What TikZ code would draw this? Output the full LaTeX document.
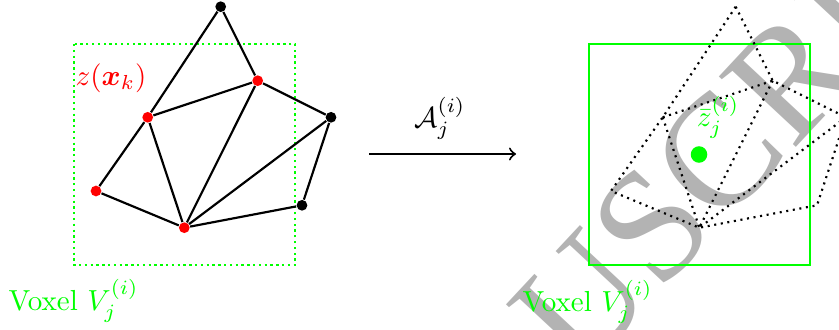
\documentclass[tikz,border=0pt]{standalone}
\usepackage{amsmath}
\usepackage{amssymb}
\usepackage{fontspec}
\newfontfamily\wmfont{Liberation Serif}
\usetikzlibrary{calc}
\definecolor{pgreen}{RGB}{0,255,0}
\definecolor{pred}{RGB}{255,0,0}
\definecolor{wmgray}{RGB}{179,179,179}
\begin{document}
\begin{tikzpicture}[x=0.345pt,y=-0.345pt,
  meshline/.style={line width=0.75pt,black},
  ghostline/.style={line width=0.75pt,black,dash pattern=on 0.7pt off 1.6pt},
  vdot/.style={circle,inner sep=0pt,minimum size=3.7pt},
  reddot/.style={vdot,fill=pred},
  blackdot/.style={vdot,fill=black},
  greenbox/.style={pgreen,line width=0.8pt,dash pattern=on 0.8pt off 1.2pt},
  voxbox/.style={pgreen,line width=0.38pt},
  lab/.style={inner sep=0pt}
]
\useasboundingbox (0,0) rectangle (839,329);

% watermark
\node[rotate=47,text=wmgray,lab,font=\wmfont\fontsize{55}{55}\selectfont] (wm) at (703,171) {USCRI};

% left voxel box
\coordinate (l1) at (74,44);
\coordinate (l2) at (295,265);
\draw[greenbox] (l1) rectangle (l2);

% right voxel box
\coordinate (r1) at (589,44);
\coordinate (r2) at (810,265);
\draw[voxbox] (r1) rectangle (r2);

% mesh vertices
\node[blackdot] (A) at (220.7,6.7) {};
\node[reddot] (B) at (257.7,80.7) {};
\node[reddot] (C) at (147.7,117.3) {};
\node[blackdot] (D) at (331,117.3) {};
\node[reddot] (E) at (96,191) {};
\node[reddot] (F) at (184.3,227.7) {};
\node[blackdot] (G) at (302,205.3) {};

\draw[meshline] (A) -- (C) (A) -- (B) (C) -- (B) (B) -- (D) (C) -- (E)
  (E) -- (F) (C) -- (F) (B) -- (F) (D) -- (F) (D) -- (G) (G) -- (F);

% transformed mesh
\foreach \v in {A,B,C,D,E,F,G}{
  \coordinate (\v2) at ($(\v)+(515,0)$);
}
\draw[ghostline] (A2) -- (C2) -- (E2) -- (F2) -- (G2) -- (D2) -- (B2) -- (A2)
  (C2) -- (B2) (C2) -- (F2) (B2) -- (F2) (D2) -- (F2);

% green mean point
\node[vdot,fill=pgreen,minimum size=5.7pt] (zm) at (699,154.5) {};

% labels
\node[lab,text=pred] (zlab) at (111,78) {$z(\boldsymbol{x}_k)$};
\node[lab,text=pgreen,anchor=base west] (vl) at (8,310) {Voxel $V_j^{(i)}$};
\node[lab,text=pgreen,anchor=base west] (vr) at (522,311) {Voxel $V_j^{(i)}$};
\node[lab] (alab) at (440,118) {$\mathcal{A}_j^{(i)}$};
\node[lab,text=pgreen] (zbar) at (718,117) {$\bar{z}_j^{(i)}$};

% arrow
\coordinate (as) at (369,154);
\coordinate (ae) at (516,154);
\draw[->,line width=0.7pt] (as) -- (ae);
\end{tikzpicture}
\end{document}
